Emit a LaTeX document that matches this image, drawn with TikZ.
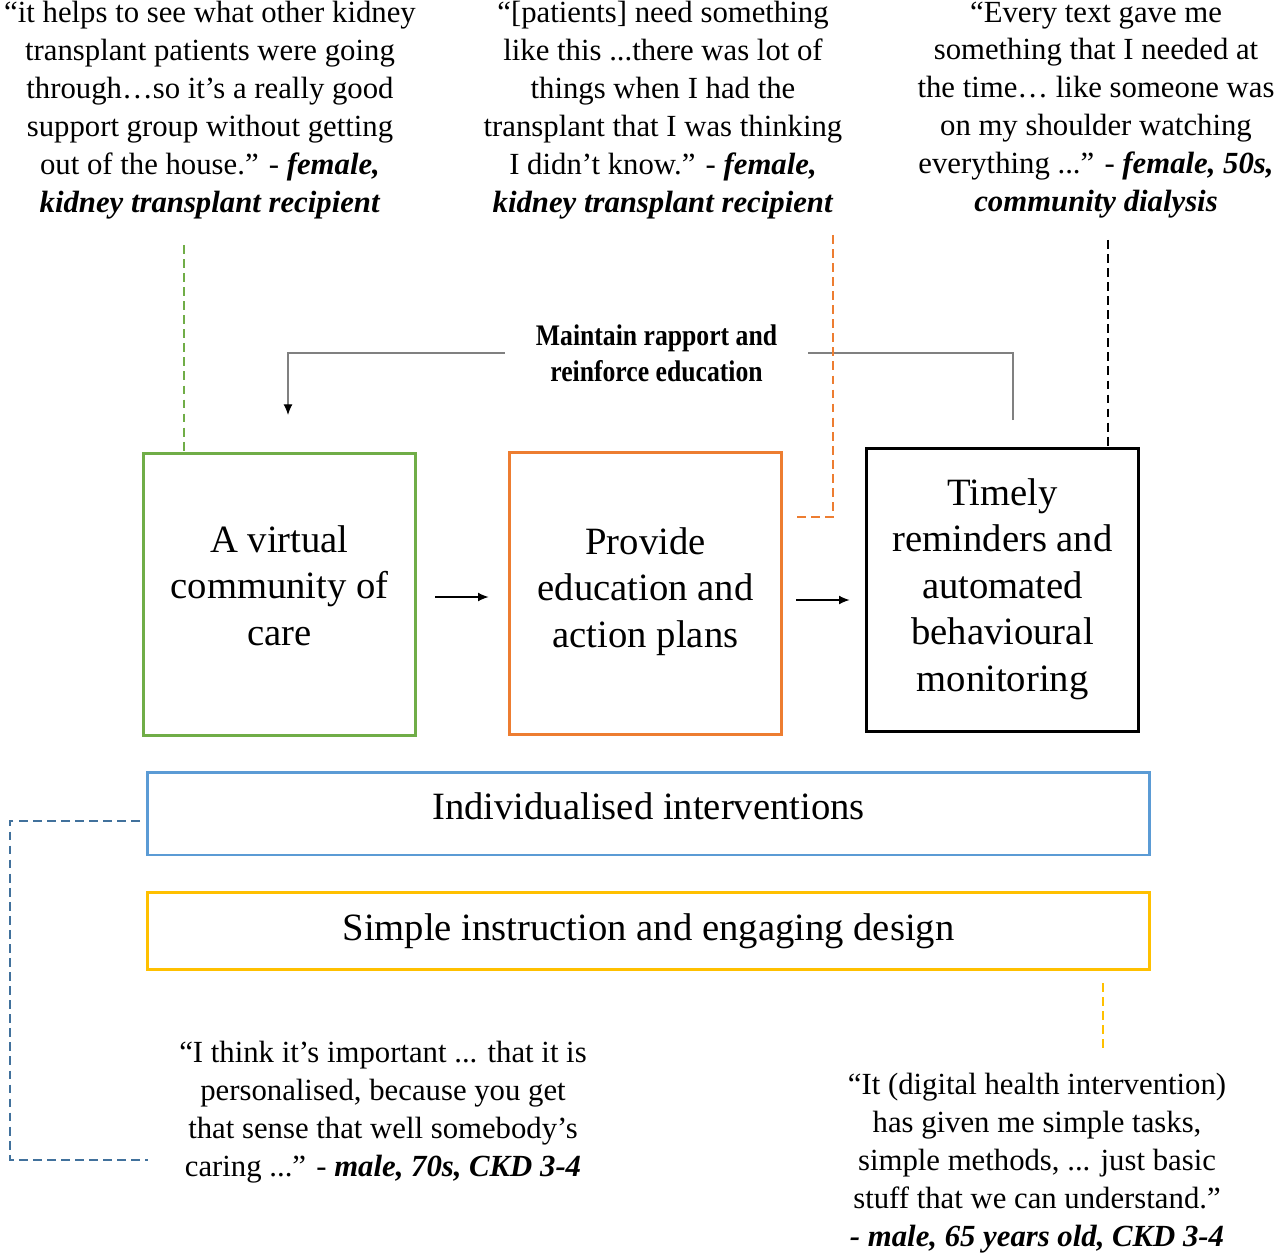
\documentclass[tikz,border=0pt]{standalone}
\usepackage{fontspec}
\setmainfont{Liberation Serif}
\newfontfamily\narrowbold[FakeStretch=0.86]{Liberation Serif}
\usepackage{tikz}
\usetikzlibrary{positioning, arrows.meta}

\definecolor{carecol}{HTML}{70AD47}
\definecolor{educol}{HTML}{ED7D31}
\definecolor{indivcol}{HTML}{5B9BD5}
\definecolor{indivdash}{HTML}{41719C}
\definecolor{simplecol}{HTML}{FFC000}
\newcommand{\who}[1]{\textbf{\textit{#1}}}

\begin{document}
\begin{tikzpicture}[x=0.02cm, y=-0.02cm,
  quote/.style={align=center, inner sep=0pt, font=\fontsize{17.5}{21.6}\selectfont},
  stage/.style={draw, line width=1.7pt, minimum width=5.46cm, minimum height=5.66cm,
    align=center, font=\fontsize{22}{26.5}\selectfont},
  band/.style={draw, line width=1.7pt, minimum width=20.06cm, align=center,
    font=\fontsize{22}{26.5}\selectfont},
  link/.style={line width=0.9pt, dash pattern=on 5pt off 3pt},
  flow/.style={-{Latex[length=6pt, width=5pt]}, line width=0.6pt}]
  \useasboundingbox (0,0) rectangle (1280,1256);

  % quotes at the top
  \node[quote] (q1) at (210,110) {“it helps to see what other kidney\\
    transplant patients were going\\ through…so it’s a really good\\
    support group without getting\\ out of the house.” - \who{female,}\\
    \who{kidney transplant recipient}};
  \node[quote] (q2) at (663,110) {“[patients] need something\\
    like this ...there was lot of\\ things when I had the\\
    transplant that I was thinking\\ I didn’t know.” - \who{female,}\\
    \who{kidney transplant recipient}};
  \node[quote] (q3) at (1096,110) {“Every text gave me\\
    something that I needed at\\ the time… like someone was\\
    on my shoulder watching\\ everything ...” - \who{female, 50s,}\\
    \who{community dialysis}};

  % three stages
  \node[stage, draw=carecol] (care) at (279.5,594.5) {A virtual\\ community of\\ care\\[-0.57cm]};
  \node[stage, draw=educol] (edu) at (645.5,593.5) {Provide\\ education and\\ action plans\\[-0.69cm]};
  \node[stage, draw=black] (remind) at (1002.5,590) {Timely\\ reminders and\\ automated\\ behavioural\\ monitoring\\[-0.73cm]};

  \draw[flow, shorten <=0.36cm, shorten >=0.38cm] (care.east |- 0,597) -- (edu.west |- 0,597);
  \draw[flow, shorten <=0.26cm, shorten >=0.3cm] (edu.east |- 0,600) -- (remind.west |- 0,600);

  % feedback loop
  \node[font=\narrowbold\bfseries\fontsize{17}{20.5}\selectfont, align=center, inner sep=0pt,
    minimum width=6.06cm] (rapport) at (656.5,353) {Maintain rapport and\\ reinforce education};
  \coordinate (loopstart) at (1013,420);
  \coordinate (loopend) at (288,415);
  \draw[gray, line width=0.6pt] (loopstart) |- (rapport.east);
  \draw[gray, line width=0.6pt, -{Latex[length=6pt, width=5pt, color=black]}] (rapport.west) -| (loopend);

  % bands
  \node[band, draw=indivcol, minimum height=1.66cm] (indiv) at (648.5,813.5) {Individualised interventions\\[-0.65cm]};
  \node[band, draw=simplecol, minimum height=1.54cm, below=0.7cm of indiv] (simple) {Simple instruction and engaging design};

  % quotes at the bottom
  \node[quote] (q4) at (383,1112) {“I think it’s important ... that it is\\
    personalised, because you get\\ that sense that well somebody’s\\
    caring ...” - \who{male, 70s, CKD 3-4}};
  \node[quote] (q5) at (1037,1163) {“It (digital health intervention)\\
    has given me simple tasks,\\ simple methods, ... just basic\\
    stuff that we can understand.”\\ \who{- male, 65 years old, CKD 3-4}};

  % dashed links from quotes
  \coordinate (gtop) at (184,245);
  \draw[link, carecol] (gtop) -- (gtop |- care.north);
  \coordinate (otop) at (833,235);
  \coordinate (oend) at (795,517);
  \draw[link, educol] (otop) |- (oend);
  \coordinate (btop) at (1108,240);
  \draw[link, black] (btop) -- (btop |- remind.north);
  \coordinate (ltop) at (140,821);
  \coordinate (lbot) at (148,1160);
  \draw[link, indivdash] (ltop) -- (10,821) |- (lbot);
  \coordinate (ytop) at (1103,983);
  \draw[link, simplecol] (ytop) -- (1103,1050);
\end{tikzpicture}
\end{document}
